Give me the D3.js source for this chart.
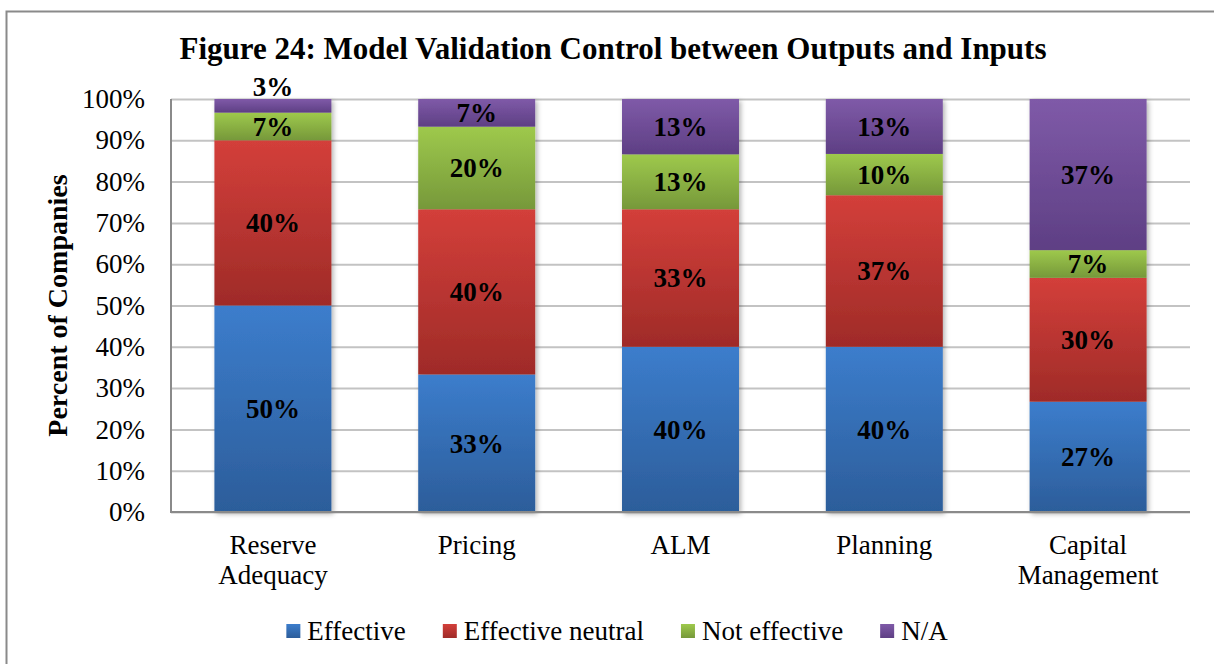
<!DOCTYPE html>
<html>
<head>
<meta charset="utf-8">
<script src="https://cdn.jsdelivr.net/npm/d3@7/dist/d3.min.js"></script>
<style>
  html, body { margin: 0; padding: 0; background: #fff; }
  svg { display: block; }
</style>
</head>
<body>
<svg id="chart" width="1214" height="664"></svg>
<script>
// ---- Data ----
const categories = ["Reserve Adequacy", "Pricing", "ALM", "Planning", "Capital Management"];
const categoryLines = [["Reserve", "Adequacy"], ["Pricing"], ["ALM"], ["Planning"], ["Capital", "Management"]];
const seriesNames = ["Effective", "Effective neutral", "Not effective", "N/A"];
const effective = [50, 33.3, 40, 40, 26.7];
const effectiveNeutral = [40, 40, 33.3, 36.7, 30];
const notEffective = [6.7, 20, 13.3, 10, 6.7];
const notApplicable = [3.3, 6.7, 13.4, 13.3, 36.6];
const yTicks = [0, 10, 20, 30, 40, 50, 60, 70, 80, 90, 100];
const titleText = "Figure 24: Model Validation Control between Outputs and Inputs";
const yAxisTitle = "Percent of Companies";

// ---- Styles ----
const colors = [
  ["#3c7dcc", "#2c5d9a"],
  ["#d33f3a", "#9f2b28"],
  ["#9ec94c", "#76983a"],
  ["#7f5aa8", "#5e3f84"]
];
const serif = "'Liberation Serif', 'Times New Roman', serif";

const svg = d3.select("#chart");
const W = 1214, H = 664;
const margin = { left: 171, right: 24, top: 99, bottom: 152 };

svg.append("rect").attr("width", W).attr("height", H).attr("fill", "#fff");
// outer frame
svg.append("rect")
  .attr("x", 6.5).attr("y", 11.5)
  .attr("width", W + 20).attr("height", H + 20)
  .attr("fill", "none").attr("stroke", "#8a8a8a").attr("stroke-width", 2);

const defs = svg.append("defs");
colors.forEach((c, i) => {
  const g = defs.append("linearGradient").attr("id", "grad" + i)
    .attr("x1", 0).attr("y1", 0).attr("x2", 0).attr("y2", 1);
  g.append("stop").attr("offset", "0%").attr("stop-color", c[0]);
  g.append("stop").attr("offset", "100%").attr("stop-color", c[1]);
});
const shadow = defs.append("filter").attr("id", "shadow")
  .attr("x", "-10%").attr("y", "-10%").attr("width", "130%").attr("height", "130%");
shadow.append("feDropShadow").attr("dx", 2).attr("dy", 2).attr("stdDeviation", 2.5)
  .attr("flood-color", "#000").attr("flood-opacity", 0.3);

const x = d3.scaleBand().domain(categories)
  .range([margin.left, W - margin.right])
  .paddingInner(0.426).paddingOuter(0.213);
const y = d3.scaleLinear().domain([0, 100]).range([H - margin.bottom, margin.top]);

// gridlines
const grid = svg.append("g")
  .attr("transform", `translate(${margin.left},0)`)
  .call(d3.axisLeft(y).tickValues(yTicks).tickSize(-(W - margin.right - margin.left)).tickFormat(""));
grid.select(".domain").remove();
grid.selectAll("line").attr("stroke", "#c3c3c3").attr("stroke-width", 2);

// y axis labels
const yAxis = svg.append("g")
  .attr("transform", `translate(${margin.left},0)`)
  .call(d3.axisLeft(y).tickValues(yTicks).tickSize(0).tickPadding(26).tickFormat(d => d + "%"));
yAxis.select(".domain").remove();
yAxis.selectAll("text").attr("font-family", serif).attr("font-size", 27).attr("fill", "#000");

// stacked data
const rows = categories.map((c, i) => ({
  category: c,
  "Effective": effective[i],
  "Effective neutral": effectiveNeutral[i],
  "Not effective": notEffective[i],
  "N/A": notApplicable[i]
}));
const stacked = d3.stack().keys(seriesNames)(rows);

const barsG = svg.append("g");
categories.forEach((c, ci) => {
  const g = barsG.append("g").attr("filter", "url(#shadow)");
  stacked.forEach((s, si) => {
    const d = s[ci];
    g.append("rect")
      .attr("x", x(c))
      .attr("width", x.bandwidth())
      .attr("y", y(d[1]))
      .attr("height", y(d[0]) - y(d[1]))
      .attr("fill", `url(#grad${si})`);
  });
});

// axis lines
svg.append("line")
  .attr("x1", margin.left).attr("x2", margin.left)
  .attr("y1", y(100)).attr("y2", y(0))
  .attr("stroke", "#8a8a8a").attr("stroke-width", 2);
svg.append("line")
  .attr("x1", margin.left - 1).attr("x2", W - margin.right)
  .attr("y1", y(0)).attr("y2", y(0))
  .attr("stroke", "#8a8a8a").attr("stroke-width", 2);

// data labels
const labelsG = svg.append("g");
categories.forEach((c, ci) => {
  stacked.forEach((s, si) => {
    const d = s[ci];
    const segH = y(d[0]) - y(d[1]);
    const cy = segH < 20 ? y(100) - 12 : (y(d[0]) + y(d[1])) / 2;
    labelsG.append("text")
      .attr("x", x(c) + x.bandwidth() / 2)
      .attr("y", cy)
      .attr("dy", "0.35em")
      .attr("text-anchor", "middle")
      .attr("font-family", serif)
      .attr("font-weight", "bold")
      .attr("font-size", 27)
      .attr("fill", "#000")
      .text(Math.round(d[1] - d[0]) + "%");
  });
});

// category labels
const xAxis = svg.append("g")
  .attr("transform", `translate(0,${y(0)})`)
  .call(d3.axisBottom(x).tickSize(0).tickFormat(""));
xAxis.select(".domain").remove();
xAxis.selectAll(".tick").each(function(d, i) {
  const t = d3.select(this).append("text")
    .attr("text-anchor", "middle")
    .attr("font-family", serif)
    .attr("font-size", 27)
    .attr("fill", "#000");
  categoryLines[i].forEach((line, li) => {
    t.append("tspan").attr("x", 0).attr("y", 42 + li * 30).text(line);
  });
});

// title
svg.append("text")
  .attr("x", 613).attr("y", 59)
  .attr("text-anchor", "middle")
  .attr("font-family", serif)
  .attr("font-weight", "bold")
  .attr("font-size", 31)
  .attr("fill", "#000")
  .text(titleText);

// y axis title
svg.append("text")
  .attr("transform", `translate(67,${(y(0) + y(100)) / 2}) rotate(-90)`)
  .attr("text-anchor", "middle")
  .attr("font-family", serif)
  .attr("font-weight", "bold")
  .attr("font-size", 28)
  .attr("fill", "#000")
  .text(yAxisTitle);

// legend
const legend = svg.append("g");
const gap = 37;
let lx = 0;
seriesNames.forEach((name, i) => {
  const g = legend.append("g");
  g.append("rect").attr("x", 0).attr("y", -7).attr("width", 14).attr("height", 14)
    .attr("fill", `url(#grad${i})`);
  const t = g.append("text").attr("x", 21).attr("y", 0).attr("dy", "0.35em")
    .attr("font-family", serif).attr("font-size", 27).attr("fill", "#000").text(name);
  const w = 21 + t.node().getComputedTextLength();
  g.attr("transform", `translate(${lx},0)`);
  lx += w + gap;
});
const legendW = lx - gap;
legend.attr("transform", `translate(${617 - legendW / 2},631)`);
</script>
</body>
</html>
